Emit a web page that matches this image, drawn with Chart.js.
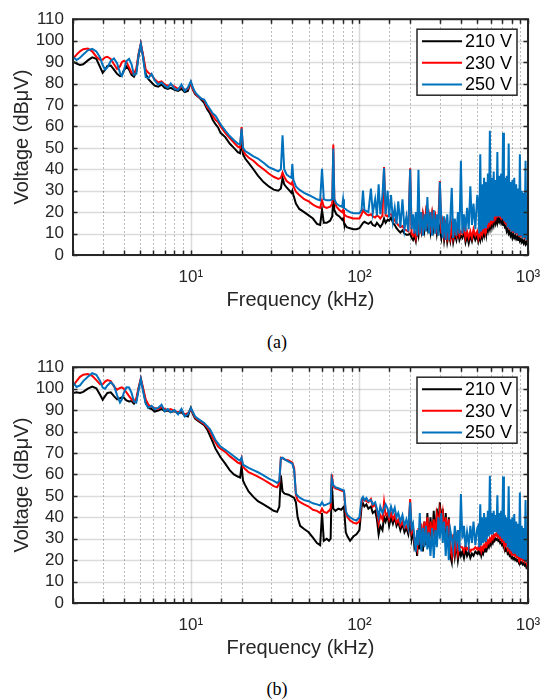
<!DOCTYPE html>
<html>
<head>
<meta charset="utf-8">
<script src="https://cdn.jsdelivr.net/npm/chart.js@4.4.1/dist/chart.umd.min.js"></script>
<style>
  body { margin: 0; background: #fff; width: 543px; height: 700px; position: relative; overflow: hidden; }
  canvas { position: absolute; left: 0; }
  .cap { position: absolute; left: 247px; width: 60px; text-align: center; line-height: 20px;
         font: 18px "Liberation Serif", "Times New Roman", serif; color: #000; }
</style>
</head>
<body>
<canvas id="chartA" width="543" height="320" style="top:0"></canvas>
<div class="cap" style="top:332px">(a)</div>
<canvas id="chartB" width="543" height="320" style="top:348px"></canvas>
<div class="cap" style="top:679px">(b)</div>
<script>
// ---- data (frequency in kHz, level in dBuV) ----
const seriesLabels = ['210 V', '230 V', '250 V'];
const seriesColors = ['#000000', '#ff0000', '#0072bd'];
const xTickLabels = ['10\u00b9', '10\u00b2', '10\u00b3'];   // 10^1 .. 10^3
const yTickStep = 10;

// (a)
const freqA = [
  2.0, 2.1, 2.2, 2.3, 2.45, 2.6, 2.75, 2.9, 3.0, 3.1, 3.2, 3.35, 3.5, 3.65, 3.8, 3.9, 4.0, 4.15, 4.3, 4.45,
  4.6, 4.75, 4.9, 5.05, 5.2, 5.4, 5.6, 5.85, 6.1, 6.4, 6.7, 7.0, 7.3, 7.6, 8.0, 8.4, 8.8, 9.2, 9.6, 10.0,
  10.3, 10.6, 11, 11.5, 12, 12.5, 13, 13.5, 14, 14.5, 15, 16, 17, 18, 19, 19.6, 20, 20.4, 21, 22,
  23.5, 25, 27, 29, 31, 33, 34.2, 35, 35.8, 37, 38.5, 39.5, 40, 40.6, 42, 44, 47, 50, 53, 56,
  58.5, 60, 61.5, 64, 67, 69, 70, 71, 73, 76, 79, 80, 81, 84, 88, 92, 96,
  100, 103, 105, 107, 110, 113, 117, 120, 124, 127, 130, 133, 137, 140, 143, 147, 150, 154, 158, 162,
  166, 170, 175, 180, 185, 190, 195,
  200, 204, 208, 212, 216, 220, 224, 228, 233, 238, 243, 248, 253, 258, 264, 270, 276, 282, 288, 294,
  300, 306, 312, 318, 325, 332, 339, 346, 353, 360, 368, 376, 384, 392, 400, 408, 417, 426, 435, 445,
  455, 465, 475, 487, 500,
  507, 514, 521, 528, 535, 542, 549, 556, 563, 570, 578, 586, 594, 602, 610, 618, 626, 634, 642, 650,
  658, 666, 675, 684, 693, 702, 711, 720, 729, 738, 748, 758, 768, 778, 788, 798, 808, 818, 829, 840,
  851, 862, 873, 884, 895, 907, 919, 931, 943, 955, 967, 979, 990, 1000
];
const v210A = [
  90.2, 89.3, 88.7, 89.0, 90.8, 92.2, 91.5, 87.5, 85.0, 86.5, 88.2, 88.4, 86.5, 84.5, 83.5, 84.0, 86.0, 88.0, 86.5, 84.0,
  83.2, 85.5, 93.0, 98.3, 93.0, 84.5, 82.0, 80.5, 79.0, 78.5, 79.5, 78.0, 77.5, 78.0, 77.0, 76.5, 77.5, 76.0, 76.5, 80.5,
  77, 75, 74, 72.5, 71, 68, 66, 63, 61, 59.5, 57, 55, 52, 50, 48, 47.5, 53, 47, 45, 43,
  40, 37, 34, 32, 30.5, 30, 31, 36, 33, 31.5, 30, 29, 30, 28, 24, 21.5, 20, 18.5, 17, 14.5,
  14, 21, 15, 15, 16, 18, 27, 21, 19, 18, 16.5, 17, 15, 13, 12.5, 12, 12,
  12.5, 14, 15, 15.5, 15, 14.5, 15.5, 14, 13.5, 15, 14, 13, 14.5, 17, 15, 16.5, 16, 17.5, 15, 14,
  12.5, 11.5, 10.5, 11.5, 10, 9.5, 9.5,
  10, 8, 7, 9, 6.5, 12, 9, 15, 11, 18, 12, 19, 13, 18, 11, 18.5, 12, 17, 10, 15,
  12, 8, 14, 7, 13, 6, 10, 6.5, 12, 6, 10, 7, 11, 7, 9, 8, 11, 6, 9, 5.5,
  9, 6.5, 10, 7, 9,
  6.5, 9, 7, 10, 8, 11, 9, 12, 10, 13, 11, 14, 12, 15, 13, 16, 14, 17, 15, 17.5,
  15, 17, 15.5, 17, 15, 16.5, 14, 15, 13, 13.5, 11, 12, 10, 11, 9, 10, 8, 9.5, 8, 9,
  7.5, 8.5, 7, 8, 6.5, 7.5, 6, 7, 5.5, 6.5, 5, 6, 5, 8
];
const v230A = [
  91.5, 93.5, 95.0, 96.0, 96.3, 95.0, 92.5, 91.0, 91.2, 92.2, 92.5, 91.5, 89.0, 86.8, 88.0, 90.0, 90.6, 90.0, 87.5, 85.0,
  84.5, 87.0, 94.0, 98.5, 93.5, 86.5, 85.0, 84.0, 82.0, 80.5, 81.0, 79.5, 79.0, 79.5, 78.5, 77.5, 78.5, 77.0, 77.5, 80.5,
  77, 75.5, 74, 73, 72, 69, 67.5, 65, 63, 62, 60, 57, 54.5, 52.5, 50.5, 50, 59.7, 49, 47, 45.5,
  44, 42, 40, 38, 36.5, 35.5, 36, 38.5, 36.5, 34.5, 33.5, 33, 34, 32, 29.5, 28, 26, 25, 23.5, 22.5,
  22, 25.5, 22.5, 22, 22.5, 24, 51.5, 26, 22.5, 21, 20, 21, 19, 18, 17.5, 17, 17,
  17, 19, 21, 20, 19, 18.5, 19, 18, 17.5, 18.5, 18, 17, 18.5, 41, 18.5, 18, 19, 19, 17.5, 16,
  15, 14, 13, 13.5, 12, 11.5, 11,
  40.5, 10, 9, 11, 8, 13, 11, 16, 12, 19, 14, 20, 15, 19, 13, 19.5, 14, 18, 12, 16,
  34.5, 10, 15, 9, 14, 8, 12, 8, 14, 8, 12, 9, 13, 9, 11, 10, 13, 8, 11, 8,
  11, 8, 12, 9, 11,
  8, 10.5, 9, 12, 10, 12.5, 11, 13, 12, 14, 13, 15.5, 14, 16, 15, 17, 16, 18, 17, 19,
  18, 18.5, 18, 18, 17, 18, 17, 16.5, 15, 15, 14, 13.5, 13, 12, 12, 11.5, 11, 11, 11, 10.5,
  10, 10, 10, 9.5, 10, 9, 9, 8.5, 9, 8, 8, 7.5, 28, 10
];
const v250A = [
  92.4, 91.0, 92.0, 93.5, 95.5, 96.2, 95.0, 92.0, 88.5, 86.5, 87.5, 90.5, 91.7, 89.5, 85.0, 83.5, 86.0, 90.5, 91.5, 89.0,
  84.0, 84.5, 93.5, 98.5, 92.5, 83.0, 82.5, 84.5, 81.5, 79.5, 80.5, 79.0, 78.0, 80.0, 77.5, 77.0, 79.5, 76.5, 78.0, 81.0,
  78, 76, 74.5, 73, 72.5, 70, 68, 66, 65, 63, 61, 58, 55.5, 53.5, 52, 51.5, 59, 50, 48.5, 47.5,
  46, 45, 43, 41, 40, 39, 40, 55.8, 40, 37.5, 36.5, 36, 42.4, 35, 32, 30.5, 29, 28, 27, 26,
  25.5, 40.2, 26, 25.5, 25.5, 26, 49.5, 26, 24, 23, 22.5, 26, 22, 21, 20, 19.5, 19.5,
  19.5, 21, 30, 21, 20.5, 20, 31, 19.5, 26, 18.5, 33, 19, 28, 40.5, 19, 30, 17.5, 28, 16, 22,
  14.5, 25, 13, 26, 12, 18, 11,
  40, 12, 19, 10, 20, 9, 39.8, 10, 20, 9, 19, 11, 27, 10, 20, 9, 21, 10, 19, 9,
  34, 16, 8, 18, 7, 19, 7, 17, 31.3, 8, 17, 9, 20, 10, 44, 10, 19, 11, 22, 12,
  32, 14, 24, 12, 28,
  24, 10, 47, 11, 33, 12, 36, 13, 34, 14, 38, 15, 58, 16, 36, 16, 39, 18, 35, 18,
  48, 18, 37, 18, 38, 17, 57, 16, 36, 15, 37, 13, 52, 12, 34, 11, 35, 11, 36, 10,
  33, 10, 31, 9, 47, 9, 30, 8, 29, 8, 44, 7, 25, 12
];

// (b)
const freqB = [
  2.0, 2.1, 2.2, 2.3, 2.45, 2.6, 2.75, 2.9, 3.0, 3.1, 3.2, 3.35, 3.5, 3.65, 3.8, 3.9, 4.0, 4.15, 4.3, 4.45,
  4.6, 4.75, 4.9, 5.05, 5.2, 5.4, 5.6, 5.85, 6.1, 6.4, 6.7, 7.0, 7.3, 7.6, 8.0, 8.4, 8.8, 9.2, 9.6, 10.0,
  10.3, 10.6, 11, 11.5, 12, 12.5, 13, 13.5, 14, 14.5, 15, 16, 17, 18, 19, 19.6, 20, 20.4, 21, 22,
  23.5, 25, 27, 29, 31, 32.5, 33.5, 34.2, 35, 36, 38, 40, 41, 42, 43, 44.5, 47, 50, 53, 56,
  58.5, 60, 61.5, 64, 66, 67.5, 68.5, 70, 72, 75, 78, 81, 83, 85, 88, 92, 96,
  100, 103, 105, 107, 110, 113, 117, 120, 124, 127, 130, 133, 137, 140, 143, 147, 150, 154, 158, 162,
  166, 170, 175, 180, 185, 190, 195,
  200, 204, 208, 212, 216, 220, 224, 228, 233, 238, 243, 248, 253, 258, 264, 270, 276, 282, 288, 294,
  300, 306, 312, 318, 325, 332, 339, 346, 353, 360, 368, 376, 384, 392, 400, 408, 417, 426, 435, 445,
  455, 465, 475, 487, 500,
  507, 514, 521, 528, 535, 542, 549, 556, 563, 570, 578, 586, 594, 602, 610, 618, 626, 634, 642, 650,
  658, 666, 675, 684, 693, 702, 711, 720, 729, 738, 748, 758, 768, 778, 788, 798, 808, 818, 829, 840,
  851, 862, 873, 884, 895, 907, 919, 931, 943, 955, 967, 979, 990, 1000
];
const v210B = [
  98.0, 98.3, 98.0, 98.5, 100.0, 101.0, 100.2, 97.0, 94.8, 96.5, 98.0, 98.3, 96.5, 95.0, 95.5, 96.0, 95.8, 94.5, 94.0, 94.2,
  93.0, 94.5, 100.0, 104.4, 100.0, 93.5, 91.0, 90.5, 89.3, 89.8, 90.5, 89.5, 89.8, 89.0, 89.5, 88.5, 89.0, 87.5, 87.0, 91.0,
  88, 86, 85, 84, 83, 81, 78, 75, 72, 70, 68, 65, 62, 60, 59, 58.5, 64, 57, 55, 52,
  49.5, 47.5, 46, 44.5, 43, 42.5, 45, 59.5, 52, 51, 50.5, 49.5, 49, 47, 40, 36, 34.5, 33, 30.5, 28,
  27, 42, 29, 30, 29, 30, 56, 44, 43, 44, 43.5, 45, 33, 31, 29, 31, 32,
  34, 45, 46.5, 45, 46, 44, 45, 42, 43, 39, 32, 36, 34, 40, 38, 41, 36, 40, 37, 40,
  36, 38, 34, 37, 33, 35, 32,
  38, 30, 34, 26, 28, 22, 33, 25, 36, 24, 38, 27, 42, 26, 40, 28, 43, 30, 44, 35,
  47, 36, 44, 30, 42, 28, 40, 22, 19, 30, 22, 28, 20, 25, 22, 24, 21, 25, 22, 24,
  21, 23, 22, 24, 23,
  24, 23, 24, 22, 24, 23, 25, 24, 26, 25, 27, 26, 28, 27, 29, 28, 30, 29, 30, 29.5,
  30, 29, 29.5, 28, 28.5, 27, 27.5, 26, 26, 24.5, 25, 23, 23.5, 22, 22.5, 21, 21.5, 20.5, 21, 20,
  20.5, 19.5, 20, 19, 19.5, 18.5, 19, 18, 18.5, 17.5, 18, 16.5, 17, 18
];
const v230B = [
  101.4, 103.5, 105.5, 106.5, 106.8, 106.0, 104.0, 102.0, 102.0, 103.3, 104.0, 103.5, 101.0, 99.5, 100.3, 100.6, 100.0, 98.3, 96.5, 95.0,
  94.0, 95.5, 100.5, 104.7, 100.5, 95.0, 92.5, 91.5, 91.0, 90.5, 91.5, 90.5, 90.0, 90.5, 89.5, 89.0, 89.5, 88.0, 88.5, 90.5,
  88.5, 86.5, 85.5, 84.5, 83.5, 82, 80, 77, 75, 73, 72, 70.5, 68.5, 67, 65.5, 65, 67.5, 63.5, 62.5, 61,
  60, 59, 57.5, 56, 54.5, 54, 56, 67.8, 67.5, 67, 66.5, 65.5, 63, 50.5, 48, 47, 46, 45, 43.5, 43,
  42, 44, 42.5, 42, 43, 44, 60, 54.5, 53.5, 53, 52.5, 52, 42, 40, 38.5, 37.5, 37,
  38, 47, 48.5, 48, 47.5, 47, 48.5, 45, 46, 43, 37, 41, 39, 47, 41, 42, 39, 42, 39, 41,
  37.5, 39, 36, 38, 35, 36, 34,
  48.5, 33, 35, 29, 30, 26, 35, 28, 37, 27, 38, 29, 40, 28, 38, 31, 39, 32, 41, 36,
  43, 37, 42, 33, 40, 31, 39, 25, 22, 32, 24, 30, 23, 27, 26, 26, 24, 27, 25, 26,
  24, 25, 25, 26, 25,
  26, 25, 26, 24, 26, 25, 27, 26, 28, 27, 29, 28, 30, 29, 31, 30, 32, 31, 32, 31.5,
  33, 31, 32, 30, 31, 29, 30, 28, 28.5, 27, 27.5, 25, 26, 24, 25, 23, 24, 22.5, 23, 22,
  23, 21.5, 22.5, 21, 22, 20.5, 21.5, 20, 21, 19.5, 20.5, 19, 31, 22
];
const v250B = [
  102.9, 100.8, 101.5, 103.5, 105.5, 107.2, 106.5, 103.5, 100.5, 100.0, 101.5, 103.0, 101.5, 97.0, 93.5, 95.0, 98.0, 100.6, 100.5, 98.0,
  94.0, 93.5, 99.5, 104.5, 99.0, 93.0, 91.0, 92.0, 90.5, 91.0, 92.5, 89.5, 90.5, 89.0, 90.0, 88.0, 90.5, 87.0, 88.0, 91.0,
  89, 87, 86, 85, 84, 82.5, 81, 78.5, 76, 74.5, 73, 71.5, 70, 68.5, 67, 66.5, 67.8, 64.5, 64, 63,
  62, 61, 59.5, 58, 57, 56, 57, 67.5, 67.8, 67, 66, 65, 62, 51, 50, 49, 48, 47.5, 46.5, 46,
  45.5, 47, 45.5, 46, 46.5, 47, 58, 55, 54, 53.5, 53, 52.5, 43, 41, 40, 39, 38.5,
  40, 48.5, 49.5, 48, 49, 47.5, 48, 46, 47, 44, 40, 45, 42, 44, 46, 44, 41, 45, 42, 44.5,
  40, 42, 38, 41, 36, 39, 35,
  47, 35, 37, 30, 24, 34, 27, 42, 24, 35, 26, 36, 25, 33, 22, 35, 21, 34, 26, 40,
  30, 42, 28, 38, 22, 36, 20, 34, 30, 25, 36, 28, 34, 24, 50.8, 30, 36, 26, 33, 27,
  36, 28, 38, 27, 35,
  36, 26, 46, 27, 40, 28, 42, 29, 40, 30, 43, 31, 59.4, 32, 42, 32, 43, 33, 41, 33,
  50.2, 32, 42, 31, 43, 30, 59, 29, 41, 28, 40, 26, 54.5, 25, 39, 24, 40, 23, 41.5, 23,
  38, 22, 37, 21.5, 51.5, 21, 36, 20.5, 35, 20, 48, 19, 34, 25
];

const FONT = '"Liberation Sans", Arial, Helvetica, sans-serif';
const AXIS = '#262626';

function isDecade(v) {
  const e = Math.log10(v);
  return Math.abs(e - Math.round(e)) < 1e-6;
}

// MATLAB-like box, grid, inward ticks and boxed legend
const matlabAxes = {
  id: 'matlabAxes',
  beforeDatasetsDraw(chart) {
    const { ctx, chartArea: a, scales: { x, y } } = chart;
    ctx.save();
    ctx.lineWidth = 1.5;
    ctx.strokeStyle = 'rgba(0,0,0,0.14)';
    y.ticks.forEach(t => {
      const py = Math.round(y.getPixelForValue(t.value)) + 0.5;
      ctx.beginPath(); ctx.moveTo(a.left, py); ctx.lineTo(a.right, py); ctx.stroke();
    });
    x.ticks.forEach(t => {
      if (!isDecade(t.value)) return;
      const px = Math.round(x.getPixelForValue(t.value)) + 0.5;
      ctx.beginPath(); ctx.moveTo(px, a.top); ctx.lineTo(px, a.bottom); ctx.stroke();
    });
    ctx.lineWidth = 1;
    ctx.strokeStyle = 'rgba(0,0,0,0.35)';
    ctx.setLineDash([1.5, 2.5]);
    x.ticks.forEach(t => {
      if (isDecade(t.value)) return;
      const px = Math.round(x.getPixelForValue(t.value)) + 0.5;
      ctx.beginPath(); ctx.moveTo(px, a.top); ctx.lineTo(px, a.bottom); ctx.stroke();
    });
    ctx.restore();
  },
  afterDatasetsDraw(chart) {
    const { ctx, chartArea: a, scales: { x, y } } = chart;
    ctx.save();
    ctx.strokeStyle = AXIS;
    ctx.lineWidth = 1.5;
    const tl = 4.5;
    x.ticks.forEach(t => {
      const px = Math.round(x.getPixelForValue(t.value)) + 0.5;
      ctx.beginPath();
      ctx.moveTo(px, a.bottom); ctx.lineTo(px, a.bottom - tl);
      ctx.moveTo(px, a.top); ctx.lineTo(px, a.top + tl);
      ctx.stroke();
    });
    y.ticks.forEach(t => {
      const py = Math.round(y.getPixelForValue(t.value)) + 0.5;
      ctx.beginPath();
      ctx.moveTo(a.left, py); ctx.lineTo(a.left + tl, py);
      ctx.moveTo(a.right, py); ctx.lineTo(a.right - tl, py);
      ctx.stroke();
    });
    ctx.lineWidth = 2;
    ctx.strokeRect(a.left, a.top, a.right - a.left, a.bottom - a.top);

    // legend
    const lw = 100, lh = 66;
    const lx = a.right - 11 - lw, ly = a.top + 10;
    ctx.fillStyle = '#fff';
    ctx.fillRect(lx, ly, lw, lh);
    ctx.lineWidth = 1.5;
    ctx.strokeStyle = AXIS;
    ctx.strokeRect(lx, ly, lw, lh);
    ctx.font = '18px ' + FONT;
    ctx.textBaseline = 'middle';
    ctx.textAlign = 'left';
    chart.data.datasets.forEach((ds, i) => {
      const cy = ly + 12 + i * 21.6;
      ctx.strokeStyle = ds.borderColor;
      ctx.lineWidth = 2;
      ctx.beginPath(); ctx.moveTo(lx + 5, cy); ctx.lineTo(lx + 45, cy); ctx.stroke();
      ctx.fillStyle = '#000';
      ctx.fillText(ds.label, lx + 48, cy + 1);
    });
    ctx.restore();
  }
};

function makeChart(id, freq, s210, s230, s250) {
  const pts = vals => freq.map((f, i) => ({ x: f, y: vals[i] }));
  const series = [s210, s230, s250];
  return new Chart(document.getElementById(id), {
    type: 'line',
    data: {
      datasets: series.map((vals, i) => ({
        label: seriesLabels[i],
        data: pts(vals),
        borderColor: seriesColors[i],
        borderWidth: 2,
        pointRadius: 0,
        tension: 0,
        order: 2 - i   // 250 V drawn on top
      }))
    },
    options: {
      responsive: false,
      animation: false,
      devicePixelRatio: 1,
      layout: { padding: { left: 0, right: 15, top: 13, bottom: 0 } },
      plugins: { legend: { display: false }, tooltip: { enabled: false } },
      scales: {
        x: {
          type: 'logarithmic',
          min: 2,
          max: 1000,
          grid: { display: false, drawTicks: false },
          border: { display: false },
          ticks: {
            autoSkip: false, maxRotation: 0, minRotation: 0,
            padding: 12,
            color: AXIS,
            font: { family: FONT, size: 17 },
            callback: v => {
              if (!isDecade(v)) return '';
              const e = Math.round(Math.log10(v));
              return xTickLabels[e - 1] || '';
            }
          },
          title: {
            display: true, text: 'Frequency (kHz)', color: AXIS,
            font: { family: FONT, size: 20 }, padding: { top: 0, bottom: 8 }
          },
          afterFit(s) { s.height = 65; s.paddingLeft = 0; s.paddingRight = 0; }
        },
        y: {
          min: 0,
          max: 110,
          grid: { display: false, drawTicks: false },
          border: { display: false },
          ticks: {
            stepSize: yTickStep, autoSkip: false, padding: 9, color: AXIS,
            font: { family: FONT, size: 17 }
          },
          title: {
            display: true, text: 'Voltage (dB\u03bcV)', color: AXIS,
            font: { family: FONT, size: 20 }, padding: { top: 10, bottom: 0 }
          },
          afterFit(s) { s.width = 73; }
        }
      }
    },
    plugins: [matlabAxes]
  });
}

makeChart('chartA', freqA, v210A, v230A, v250A);
makeChart('chartB', freqB, v210B, v230B, v250B);
</script>
</body>
</html>
